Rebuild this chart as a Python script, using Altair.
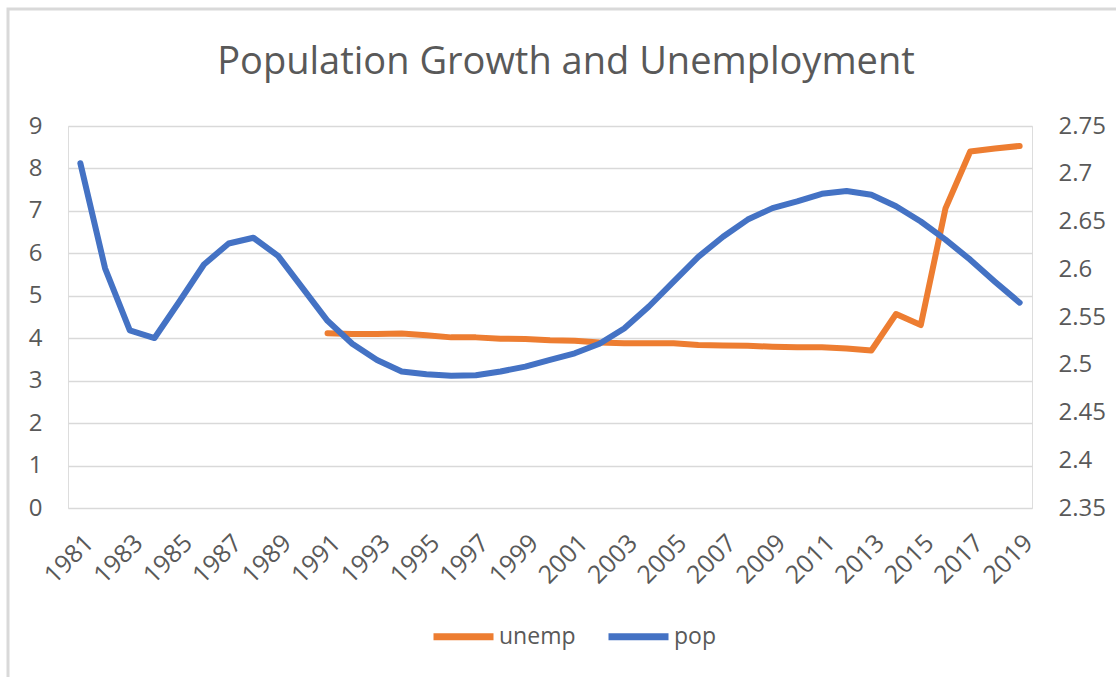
import altair as alt
import pandas as pd

years = list(range(1981, 2020))
unemp = [None] * 10 + [4.12, 4.10, 4.10, 4.11, 4.07, 4.02, 4.02, 3.99, 3.98, 3.95,
                       3.94, 3.90, 3.88, 3.88, 3.88, 3.84, 3.83, 3.82, 3.80, 3.79,
                       3.79, 3.76, 3.71, 4.57, 4.31, 7.06, 8.40, 8.47, 8.53]
pop = [2.711, 2.601, 2.536, 2.528, 2.566, 2.605, 2.627, 2.633, 2.614, 2.580,
       2.546, 2.522, 2.505, 2.493, 2.490, 2.4885, 2.489, 2.493, 2.498, 2.505,
       2.512, 2.522, 2.538, 2.561, 2.587, 2.613, 2.634, 2.652, 2.664, 2.671,
       2.679, 2.682, 2.678, 2.666, 2.650, 2.631, 2.610, 2.587, 2.565]
left_ticks = list(range(0, 10))
right_ticks = [2.35, 2.4, 2.45, 2.5, 2.55, 2.6, 2.65, 2.7, 2.75]
label_years = list(range(1981, 2020, 2))
title_text = "Population Growth and Unemployment"

long = pd.concat([
    pd.DataFrame({"year": years, "series": "unemp", "value": unemp}),
    pd.DataFrame({"year": years, "series": "pop", "value": pop}),
])

FONT = "Open Sans"
GREY = "#595959"
ORANGE = "#ED7D31"
BLUE = "#4472C4"

W, H = 964, 382

xenc = alt.X("year:O", scale=alt.Scale(type="point", padding=0.5),
             axis=alt.Axis(values=label_years, labelAngle=-45, title=None,
                           domain=False, ticks=False, grid=False,
                           labelFontSize=25, labelColor=GREY, labelFont=FONT,
                           labelPadding=22))

color_scale = alt.Scale(domain=["unemp", "pop"], range=[ORANGE, BLUE])

unemp_line = alt.Chart(long).transform_filter(alt.datum.series == "unemp").mark_line(
    strokeWidth=6, strokeCap="round", strokeJoin="round"
).encode(
    x=xenc,
    y=alt.Y("value:Q", scale=alt.Scale(domain=[0, 9], nice=False, zero=False),
            axis=alt.Axis(values=left_ticks, title=None, domain=False, ticks=False,
                          grid=True, gridColor="#D9D9D9", gridWidth=1.5,
                          labelFontSize=24, labelColor=GREY, labelFont=FONT,
                          labelPadding=26, orient="left")),
    color=alt.Color("series:N", scale=color_scale,
                    legend=alt.Legend(title=None, orient="none", direction="horizontal",
                                      legendX=362, legendY=477,
                                      symbolType="stroke", symbolSize=3600,
                                      symbolStrokeWidth=7, labelFontSize=23,
                                      labelColor=GREY, labelFont=FONT,
                                      columnPadding=18, labelOffset=2)),
)

pop_line = alt.Chart(long).transform_filter(alt.datum.series == "pop").mark_line(
    strokeWidth=6, strokeCap="round", strokeJoin="round"
).encode(
    x=xenc,
    y=alt.Y("value:Q", scale=alt.Scale(domain=[2.35, 2.75], nice=False, zero=False),
            axis=alt.Axis(values=right_ticks, format=".2~f", title=None, domain=False,
                          ticks=False, grid=False, labelFontSize=24, labelColor=GREY,
                          labelFont=FONT, labelPadding=26, orient="right")),
    color=alt.Color("series:N", scale=color_scale),
)

border = alt.Chart(pd.DataFrame({"a": [0]})).mark_rect(
    fill=None, stroke="#D9D9D9", strokeWidth=3
).encode(x=alt.value(-60), x2=alt.value(1100), y=alt.value(-117), y2=alt.value(600))

title = alt.Chart(pd.DataFrame({"t": [title_text]})).mark_text(
    font=FONT, fontSize=38, color=GREY, align="center", baseline="middle"
).encode(text="t:N", x=alt.value(498), y=alt.value(-63))

chart = alt.layer(border, title, unemp_line, pop_line).resolve_scale(
    y="independent"
).properties(
    width=W, height=H,
    autosize=alt.AutoSizeParams(type="none"),
    padding={"left": 68, "top": 126, "right": 84, "bottom": 169},
).configure_view(stroke=None).configure(background="white")

chart.save("out.html", embed_options={"renderer": "svg", "actions": False})
